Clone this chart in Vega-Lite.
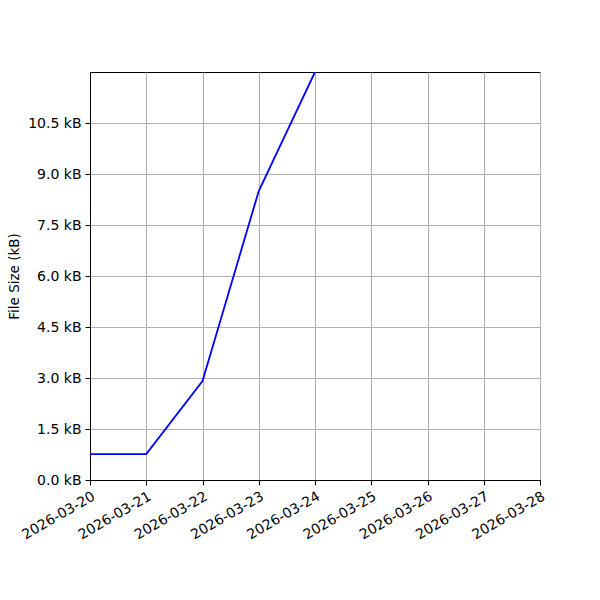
{
  "$schema": "https://vega.github.io/schema/vega-lite/v6.json",
  "width": 450,
  "height": 408,
  "autosize": "none",
  "padding": {"left": 90, "top": 72, "right": 60, "bottom": 120},
  "background": "white",
  "config": {
    "font": "DejaVu Sans",
    "view": {"stroke": "black", "strokeWidth": 1},
    "axis": {
      "labelFont": "DejaVu Sans",
      "labelFontSize": 14,
      "labelColor": "black",
      "titleFont": "DejaVu Sans",
      "titleFontSize": 13.5,
      "titleFontWeight": "normal",
      "titleColor": "black",
      "domainColor": "black",
      "tickColor": "black",
      "tickSize": 5,
      "gridColor": "#b0b0b0",
      "gridWidth": 1
    }
  },
  "data": {
    "values": [
      {"date": "2026-03-20", "size": 0.76},
      {"date": "2026-03-21", "size": 0.76},
      {"date": "2026-03-22", "size": 2.91},
      {"date": "2026-03-23", "size": 8.5},
      {"date": "2026-03-24", "size": 12.0}
    ]
  },
  "mark": {"type": "line", "color": "blue", "strokeWidth": 1.8, "clip": true},
  "encoding": {
    "x": {
      "field": "date",
      "type": "temporal",
      "scale": {
        "type": "utc",
        "domain": [
          {"year": 2026, "month": 3, "date": 20, "utc": true},
          {"year": 2026, "month": 3, "date": 28, "utc": true}
        ]
      },
      "axis": {
        "title": null,
        "labelExpr": "utcFormat(datum.value, '%Y-%m-%d')",
        "values": [
          {"year": 2026, "month": 3, "date": 20, "utc": true},
          {"year": 2026, "month": 3, "date": 21, "utc": true},
          {"year": 2026, "month": 3, "date": 22, "utc": true},
          {"year": 2026, "month": 3, "date": 23, "utc": true},
          {"year": 2026, "month": 3, "date": 24, "utc": true},
          {"year": 2026, "month": 3, "date": 25, "utc": true},
          {"year": 2026, "month": 3, "date": 26, "utc": true},
          {"year": 2026, "month": 3, "date": 27, "utc": true},
          {"year": 2026, "month": 3, "date": 28, "utc": true}
        ],
        "labelAngle": -30,
        "labelAlign": "right",
        "labelBaseline": "top",
        "labelPadding": 4,
        "labelDx": -14,
        "labelOverlap": false,
        "labelFlush": false
      }
    },
    "y": {
      "field": "size",
      "type": "quantitative",
      "scale": {"domain": [0, 12], "nice": false, "zero": true},
      "axis": {
        "title": "File Size (kB)",
        "values": [0, 1.5, 3, 4.5, 6, 7.5, 9, 10.5],
        "labelExpr": "format(datum.value, '.1f') + ' kB'",
        "labelPadding": 4,
        "titlePadding": 6
      }
    }
  }
}
